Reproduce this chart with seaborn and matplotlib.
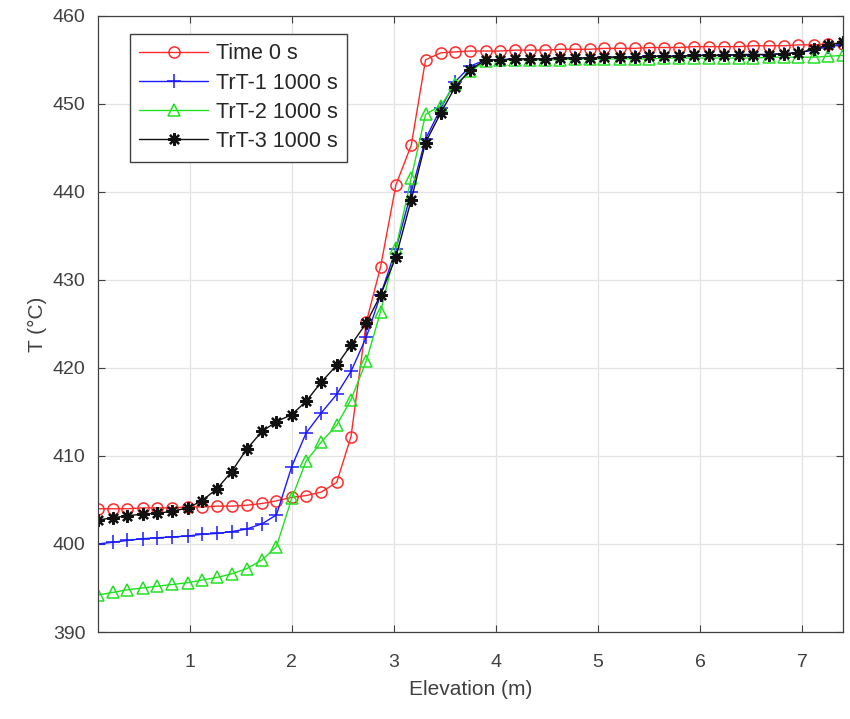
import numpy as np
import pandas as pd
import seaborn as sns
import matplotlib.pyplot as plt

# elevation of the nodes (m)
elevation = [0.10, 0.25, 0.39, 0.54, 0.68, 0.83, 0.98, 1.12, 1.27, 1.41,
             1.56, 1.71, 1.85, 2.00, 2.14, 2.29, 2.44, 2.58, 2.73, 2.87,
             3.02, 3.17, 3.31, 3.46, 3.60, 3.75, 3.90, 4.04, 4.19, 4.33,
             4.48, 4.63, 4.77, 4.92, 5.06, 5.21, 5.36, 5.50, 5.65, 5.79,
             5.94, 6.09, 6.23, 6.38, 6.52, 6.67, 6.82, 6.96, 7.11, 7.25, 7.40]

# temperatures (C)
t_time0 = [404.0, 404.0, 404.0, 404.1, 404.1, 404.1, 404.2, 404.2, 404.3, 404.3,
           404.4, 404.6, 404.9, 405.3, 405.5, 405.9, 407.0, 412.2, 425.2, 431.5,
           440.8, 445.3, 455.0, 455.8, 455.9, 456.0, 456.0, 456.0, 456.1, 456.1,
           456.1, 456.2, 456.2, 456.2, 456.3, 456.3, 456.3, 456.4, 456.4, 456.4,
           456.5, 456.5, 456.5, 456.5, 456.6, 456.6, 456.6, 456.7, 456.7, 456.8, 456.8]
t_trt1 = [400.0, 400.2, 400.4, 400.6, 400.7, 400.8, 400.9, 401.1, 401.2, 401.4,
          401.7, 402.3, 403.3, 408.8, 412.6, 414.9, 417.0, 419.6, 423.5, 428.3,
          433.5, 440.0, 446.0, 449.5, 452.5, 454.3, 455.0, 455.0, 455.1, 455.1,
          455.1, 455.2, 455.2, 455.2, 455.3, 455.3, 455.3, 455.4, 455.4, 455.4,
          455.5, 455.5, 455.5, 455.6, 455.6, 455.6, 455.7, 455.8, 456.1, 456.5, 456.7]
t_trt2 = [394.2, 394.5, 394.8, 395.0, 395.2, 395.4, 395.6, 395.9, 396.2, 396.6,
          397.2, 398.2, 399.7, 405.2, 409.4, 411.6, 413.5, 416.4, 420.8, 426.4,
          433.6, 441.6, 448.8, 449.8, 452.2, 453.7, 454.9, 455.0, 455.0, 455.0,
          455.0, 455.0, 455.1, 455.1, 455.1, 455.1, 455.1, 455.1, 455.2, 455.2,
          455.2, 455.2, 455.2, 455.2, 455.2, 455.3, 455.3, 455.3, 455.3, 455.4, 455.5]
t_trt3 = [402.7, 403.0, 403.2, 403.4, 403.5, 403.7, 404.1, 404.9, 406.3, 408.2,
          410.8, 412.8, 413.9, 414.7, 416.2, 418.4, 420.3, 422.6, 425.1, 428.3,
          432.6, 439.1, 445.6, 449.0, 451.9, 453.9, 455.0, 455.0, 455.1, 455.1,
          455.1, 455.2, 455.2, 455.2, 455.3, 455.3, 455.3, 455.4, 455.4, 455.4,
          455.5, 455.5, 455.5, 455.6, 455.6, 455.6, 455.7, 455.8, 456.2, 456.7, 457.0]

series_names = ["Time 0 s", "TrT-1 1000 s", "TrT-2 1000 s", "TrT-3 1000 s"]
series_colors = ["#ff2a2a", "#1a1aff", "#22e022", "#111111"]

sns.set_style("ticks")
plt.rcParams['font.family'] = ['Liberation Sans', 'DejaVu Sans']
plt.rcParams['xtick.direction'] = 'in'
plt.rcParams['ytick.direction'] = 'in'
plt.rcParams['xtick.top'] = True
plt.rcParams['ytick.right'] = True

fig = plt.figure(figsize=(8.5, 7.19), dpi=100)
ax = fig.add_axes([0.115, 0.121, 0.877, 0.857])

gray = "#404040"
markers = ["o", "+", "^", (8, 2, 0)]
filled = ["none", "none", "none", "#111111"]
sizes = [8, 10, 8, 9]
edge_w = [1.1, 1.1, 1.1, 1.6]

for name, vals, col, mk, fc, ms, ew in zip(series_names, [t_time0, t_trt1, t_trt2, t_trt3],
                                           series_colors, markers, filled, sizes, edge_w):
	sns.lineplot(x=elevation, y=vals, ax=ax, sort=False, label=name, color=col,
	             linewidth=1.0, marker=mk, markersize=ms, markerfacecolor=fc,
	             markeredgecolor=col, markeredgewidth=ew)

ax.set_xlim(0.1, 7.4)
ax.set_ylim(390, 460)
ax.set_xticks([1, 2, 3, 4, 5, 6, 7])
ax.set_yticks([390, 400, 410, 420, 430, 440, 450, 460])
ax.grid(True, color="#e3e3e3", linewidth=0.9)
ax.tick_params(labelsize=14, colors=gray, length=5, width=0.8)
ax.tick_params(axis="x", pad=16)
ax.tick_params(axis="y", pad=9)
for s in ax.spines.values():
	s.set_color(gray)
	s.set_linewidth(0.9)

ax.set_xlabel("Elevation (m)", fontsize=15, color=gray, labelpad=6)
ax.set_ylabel("T (°C)", fontsize=15, color=gray, labelpad=4)

leg = ax.legend(loc="upper left", bbox_to_anchor=(0.043, 0.971), fontsize=15.5,
                fancybox=False, edgecolor=gray, framealpha=1, handlelength=3.2,
                labelspacing=0.38, borderaxespad=0, borderpad=0.45, handletextpad=0.35)
leg.get_frame().set_linewidth(1.0)

plt.savefig("out.png", dpi=100)
